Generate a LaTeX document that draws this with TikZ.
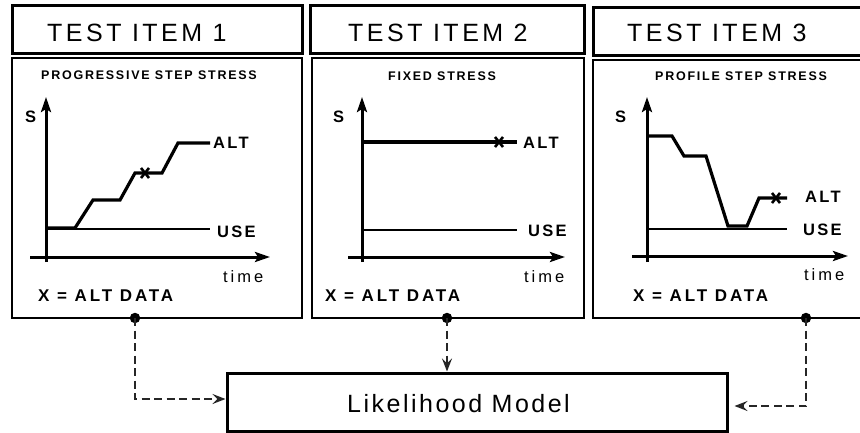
\documentclass[tikz,border=0pt]{standalone}
\usepackage{fontspec}
\setmainfont{Liberation Sans}
\usetikzlibrary{arrows.meta}

\tikzset{
  x=1pt, y=-1pt,
  titlebox/.style={draw, line width=3pt},
  panel/.style={draw, line width=2.8pt},
  modelbox/.style={draw, line width=3pt, minimum width=500pt, minimum height=58pt, inner sep=0pt},
  axis/.style={line width=3pt, -{Stealth[length=15pt, width=10pt, inset=3pt]}},
  curve/.style={line width=3.2pt, line join=miter},
  uselevel/.style={line width=1.5pt},
  xmark/.style={line width=2.6pt},
  feed/.style={line width=2.8pt, black!85, dash pattern=on 8pt off 4.5pt,
               -{Stealth[length=13pt, width=10pt, inset=5pt]}},
  dot/.style={circle, fill, inner sep=0pt, minimum size=10.5pt},
  txt/.style={anchor=base west, inner sep=0pt},
  titletext/.style={txt, font=\fontsize{25}{25}\selectfont\addfontfeatures{LetterSpace=14}},
  headtext/.style={txt, font=\fontsize{12.5}{13}\selectfont\bfseries\addfontfeatures{LetterSpace=14}},
  levtext/.style={txt, font=\fontsize{16.5}{17}\selectfont\bfseries\addfontfeatures{LetterSpace=14}},
  keytext/.style={txt, font=\fontsize{17}{17}\selectfont\bfseries\addfontfeatures{LetterSpace=17}},
  timetext/.style={txt, font=\fontsize{16.5}{17}\selectfont\addfontfeatures{LetterSpace=18}},
  modeltext/.style={font=\fontsize{25}{25}\selectfont\addfontfeatures{LetterSpace=10}},
}

\begin{document}
\begin{tikzpicture}
\useasboundingbox (0,0) rectangle (860,432);
\clip (0,0) rectangle (860,432);

% ---- title bars ----
\draw[titlebox] (12,5) rectangle (302,53);
\draw[titlebox] (310,5) rectangle (584,53);
\draw[titlebox] (593,7) rectangle (880,55);
\node[titletext] (t1) at (47,41) {TEST ITEM 1};
\node[titletext] (t2) at (348,41) {TEST ITEM 2};
\node[titletext] (t3) at (627,41) {TEST ITEM 3};

% ---- panels ----
\draw[panel] (12,58) rectangle (302,318);
\draw[panel] (312,58) rectangle (584,318);
\draw[panel] (593,60) rectangle (880,318);

% ---- item 1: progressive step stress ----
\node[headtext] (h1) at (41,79) {PROGRESSIVE STEP STRESS};
\draw[axis] (46,262) -- (46,97);
\draw[axis] (30,257) -- (270,257);
\node[levtext] (s1) at (25,122) {S};
\draw[uselevel] (46,229) -- (210,229);
\draw[curve] (46,228) -- (75,228) -- (93,200) -- (120,200) -- (135,173)
             -- (162,173) -- (178,143) -- (210,143);
\draw[xmark] (141,168) -- (149,178) (149,168) -- (141,178);
\node[levtext] (a1) at (213,148) {ALT};
\node[levtext] (u1) at (217,237) {USE};
\node[timetext] (tm1) at (223,282) {time};
\node[keytext] (k1) at (38,301) {X = ALT DATA};

% ---- item 2: fixed stress ----
\node[headtext] (h2) at (388,80) {FIXED STRESS};
\draw[axis] (362,262) -- (362,97);
\draw[axis] (348,257) -- (565,257);
\node[levtext] (s2) at (333,122) {S};
\draw[curve] (362,142) -- (517,142);
\draw[xmark] (495,137) -- (503,147) (503,137) -- (495,147);
\draw[uselevel] (362,230) -- (517,230);
\node[levtext] (a2) at (523,148) {ALT};
\node[levtext] (u2) at (528,236) {USE};
\node[timetext] (tm2) at (524,282) {time};
\node[keytext] (k2) at (325,301) {X = ALT DATA};

% ---- item 3: profile step stress ----
\node[headtext] (h3) at (655,80) {PROFILE STEP STRESS};
\draw[axis] (647,262) -- (647,97);
\draw[axis] (632,256) -- (848,256);
\node[levtext] (s3) at (615,122) {S};
\draw[uselevel] (647,229) -- (787,229);
\draw[curve] (647,136) -- (672,136) -- (684,156) -- (706,156) -- (728,226)
             -- (747,226) -- (759,198) -- (787,198);
\draw[xmark] (772,193) -- (780,203) (780,193) -- (772,203);
\node[levtext] (a3) at (805,202) {ALT};
\node[levtext] (u3) at (803,235) {USE};
\node[timetext] (tm3) at (804,280) {time};
\node[keytext] (k3) at (633,301) {X = ALT DATA};

% ---- likelihood model and data feeds ----
\node[modelbox] (model) at (477,402) {};
\node[modeltext, anchor=base west, inner sep=0pt] (mt) at (347,412) {Likelihood Model};

\node[dot] (d1) at (135,318) {};
\node[dot] (d2) at (447,318) {};
\node[dot] (d3) at (806,318) {};

\draw[feed] (d1.center) |- ([yshift=3pt]model.west);
\draw[feed] (d2.center) -- (model.north -| d2);
\draw[feed] (d3.center) |- ([xshift=6pt, yshift=-4pt]model.east);
\end{tikzpicture}
\end{document}
